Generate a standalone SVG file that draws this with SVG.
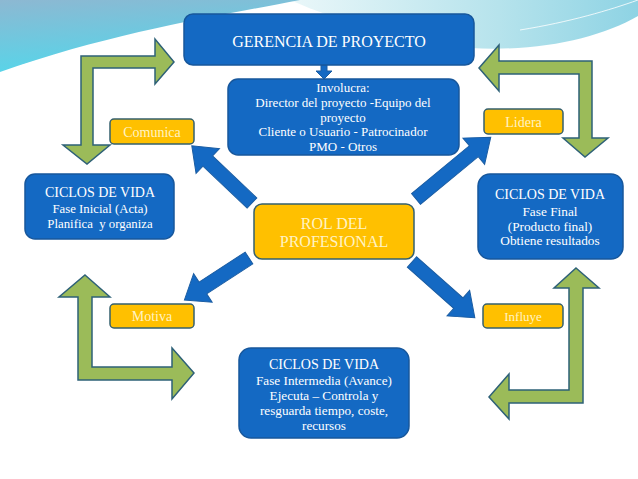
<svg xmlns="http://www.w3.org/2000/svg" width="638" height="479" viewBox="0 0 638 479">
<defs>
<linearGradient id="bgL" x1="0" y1="0" x2="0.3" y2="1">
<stop offset="0" stop-color="#8DB8D2"/>
<stop offset="1" stop-color="#55D6EA"/>
</linearGradient>
<linearGradient id="bgR" x1="0" y1="0" x2="1" y2="0">
<stop offset="0" stop-color="#EAF7F9"/>
<stop offset="0.6" stop-color="#B6E3EC"/>
<stop offset="1" stop-color="#8ED3E4"/>
</linearGradient>
<style>
.blue{fill:#1469C3;stroke:#17579C;stroke-width:1.5}
.yel{fill:#FFC000;stroke:#35606E;stroke-width:1.5}
.grn{fill:#9BBB59;stroke:#2E6177;stroke-width:1.5;stroke-linejoin:miter}
.arr{fill:#1469C3;stroke:#1B5DA3;stroke-width:1}
text{font-family:"Liberation Serif","DejaVu Serif",serif;text-anchor:middle}
.wt{fill:#FFFFFF}
.yt{fill:#FFF3C4}
</style>
</defs>
<rect width="638" height="479" fill="#FFFFFF"/>
<g id="background">
<path d="M290,0 C340,22 410,42 470,48 C540,52 600,38 638,16 L638,0 Z" fill="url(#bgR)"/>
<path d="M0,0 L300,0 C230,14 120,30 0,72 Z" fill="url(#bgL)"/>
<path d="M20,66 C100,40 200,32 300,30" fill="none" stroke="#FFFFFF" stroke-width="1" opacity="0.8"/>
<path d="M520,30 C570,22 610,10 638,0" fill="none" stroke="#FFFFFF" stroke-width="1" opacity="0.8"/>
</g>
<g id="connectors">
<path class="arr" d="M321,65 L327,65 L327,71 L332,71 L324,79 L316,71 L321,71 Z"/>
<path class="arr" transform="translate(252,203) rotate(223.5)" d="M0,-7 L61,-7 L61,-17 L83,0 L61,17 L61,7 L0,7 Z"/>
<path class="arr" transform="translate(416,199) rotate(-39.6)" d="M0,-7 L75,-7 L75,-17 L97,0 L75,17 L75,7 L0,7 Z"/>
<path class="arr" transform="translate(249,258) rotate(147)" d="M0,-7 L55,-7 L55,-17 L77,0 L55,17 L55,7 L0,7 Z"/>
<path class="arr" transform="translate(412,262) rotate(41.6)" d="M0,-7 L62,-7 L62,-17 L84,0 L62,17 L62,7 L0,7 Z"/>
<path class="grn" d="M81,56 L155,56 L155,39 L174,62 L155,84 L155,68 L93,68 L93,145 L110,145 L87,164 L63,145 L81,145 Z"/>
<path class="grn" d="M479,68 L499,45 L499,61 L592,61 L592,138 L608,138 L585,157 L563,138 L579,138 L579,74 L499,74 L499,91 Z"/>
<path class="grn" d="M85,275 L110,297 L92,297 L92,367 L172,367 L172,348 L194,373 L172,399 L172,380 L78,380 L78,297 L59,297 Z"/>
<path class="grn" d="M576,268 L599,288 L583,288 L583,403 L509,403 L509,419 L489,397 L509,374 L509,390 L569,390 L569,288 L554,288 Z"/>
</g>
<g id="gerencia">
<rect class="blue" x="184" y="14" width="290" height="51" rx="9"/>
<text class="wt" x="329" y="47" font-size="16">GERENCIA DE PROYECTO</text>
</g>
<g id="involucra">
<rect class="blue" x="228" y="79" width="231" height="76" rx="10"/>
<text class="wt" font-size="13"><tspan x="343" y="92">Involucra:</tspan><tspan x="343" y="107">Director del proyecto -Equipo del</tspan><tspan x="343" y="122">proyecto</tspan><tspan x="343" y="136">Cliente o Usuario - Patrocinador</tspan><tspan x="343" y="151">PMO - Otros</tspan></text>
</g>
<g id="comunica">
<rect class="yel" x="110" y="119" width="84" height="25" rx="4"/>
<text class="yt" x="152" y="136.5" font-size="14">Comunica</text>
</g>
<g id="lidera">
<rect class="yel" x="484" y="109" width="79" height="25" rx="4"/>
<text class="yt" x="523.5" y="126.5" font-size="14">Lidera</text>
</g>
<g id="ciclos-inicial">
<rect class="blue" x="25" y="174" width="149" height="65" rx="10"/>
<text class="wt" x="100" y="197" font-size="14">CICLOS DE VIDA</text>
<text class="wt" x="100" y="212.5" font-size="12.8">Fase Inicial (Acta)</text>
<text class="wt" x="100" y="227.5" font-size="12.8">Planifica&#160; y organiza</text>
</g>
<g id="rol">
<rect class="yel" x="254" y="204" width="160" height="55" rx="8"/>
<text class="yt" x="334" y="229" font-size="16">ROL DEL</text>
<text class="yt" x="334" y="247" font-size="16">PROFESIONAL</text>
</g>
<g id="ciclos-final">
<rect class="blue" x="478" y="174" width="145" height="85" rx="12"/>
<text class="wt" x="550" y="199" font-size="14">CICLOS DE VIDA</text>
<text class="wt" x="550" y="215.5" font-size="13.3">Fase Final</text>
<text class="wt" x="550" y="230.5" font-size="13.3">(Producto final)</text>
<text class="wt" x="550" y="244.5" font-size="13.3">Obtiene resultados</text>
</g>
<g id="motiva">
<rect class="yel" x="110" y="304" width="84" height="24" rx="4"/>
<text class="yt" x="152" y="320.5" font-size="14">Motiva</text>
</g>
<g id="influye">
<rect class="yel" x="483" y="304" width="80" height="24" rx="4"/>
<text class="yt" x="523" y="320.5" font-size="13">Influye</text>
</g>
<g id="ciclos-intermedia">
<rect class="blue" x="239" y="348" width="170" height="90" rx="12"/>
<text class="wt" x="324" y="369" font-size="14">CICLOS DE VIDA</text>
<text class="wt" x="324" y="384.5" font-size="13.2">Fase Intermedia (Avance)</text>
<text class="wt" x="324" y="399.5" font-size="13.2">Ejecuta – Controla y</text>
<text class="wt" x="324" y="414.5" font-size="13.2">resguarda tiempo, coste,</text>
<text class="wt" x="324" y="429.5" font-size="13.2">recursos</text>
</g>
</svg>
